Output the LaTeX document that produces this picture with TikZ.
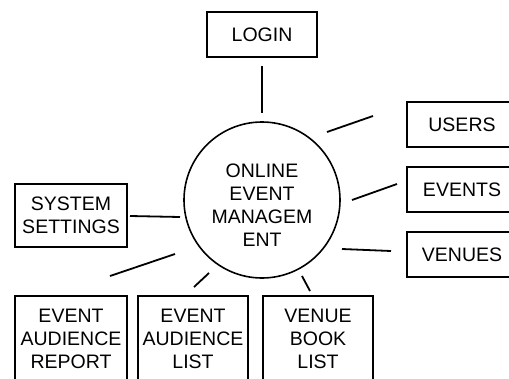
\documentclass[tikz,border=0pt]{standalone}
\usepackage{fontspec}
\setmainfont{Liberation Sans}
\usetikzlibrary{positioning}
\tikzset{box/.style={draw=black, line width=1.8pt, rectangle, minimum width=110pt, minimum height=45pt, inner sep=0pt, align=center, font=\fontsize{19.5}{23}\selectfont},
link/.style={draw=black, line width=1.8pt}}

\begin{document}
\begin{tikzpicture}[x=1pt, y=-1pt]
        \useasboundingbox (0, 0) rectangle (509, 378);
        \clip (0, 0) rectangle (509, 378);
        % Center
        \node[circle, draw=black, line width=1.6pt, minimum size=156pt, inner sep=0pt] (hub) at (262, 200) {};
        \node[align=center, inner sep=0pt, font=\fontsize{19.5}{23}\selectfont] (hubtext) at (262, 205) {ONLINE\\EVENT\\MANAGEM\\ENT};
        % Boxes
        \node[box] (login) at (262, 34.5) {LOGIN};
        \node[box] (users) at (462, 124.5) {USERS};
        \node[box] (events) at (462, 189.5) {EVENTS};
        \node[box] (venues) at (462, 254.5) {VENUES};
        \node[box, minimum width=112pt, minimum height=63pt] (settings) at (71, 215.5) {SYSTEM\\SETTINGS};
        \node[box, minimum width=112pt, minimum height=86pt] (report) at (71, 339) {EVENT\\AUDIENCE\\REPORT};
        \node[box, minimum width=110pt, minimum height=86pt] (audlist) at (193, 339) {EVENT\\AUDIENCE\\LIST};
        \node[box, minimum width=110pt, minimum height=86pt] (booklist) at (318, 339) {VENUE\\BOOK\\LIST};
        % Line ends
        \coordinate (usersin) at (327, 132);
        \coordinate (usersout) at (373, 116);
        \coordinate (eventsin) at (352, 200);
        \coordinate (eventsout) at (397, 184);
        \coordinate (venuesin) at (342, 249);
        \coordinate (venuesout) at (391, 251);
        \coordinate (settingsin) at (180, 217);
        \coordinate (settingsout) at (130, 216);
        \coordinate (reportin) at (175, 254);
        \coordinate (reportout) at (110, 276);
        \coordinate (audlistin) at (209, 273);
        \coordinate (audlistout) at (194, 287);
        \coordinate (booklistin) at (302, 276);
        \coordinate (booklistout) at (310, 291);
        % Lines
        \draw[link, shorten <=8pt, shorten >=8pt] (login) -- (hub);
        \draw[link] (usersin) -- (usersout);
        \draw[link] (eventsin) -- (eventsout);
        \draw[link] (venuesin) -- (venuesout);
        \draw[link] (settingsin) -- (settingsout);
        \draw[link] (reportin) -- (reportout);
        \draw[link] (audlistin) -- (audlistout);
        \draw[link] (booklistin) -- (booklistout);
    \end{tikzpicture}
\end{document}
